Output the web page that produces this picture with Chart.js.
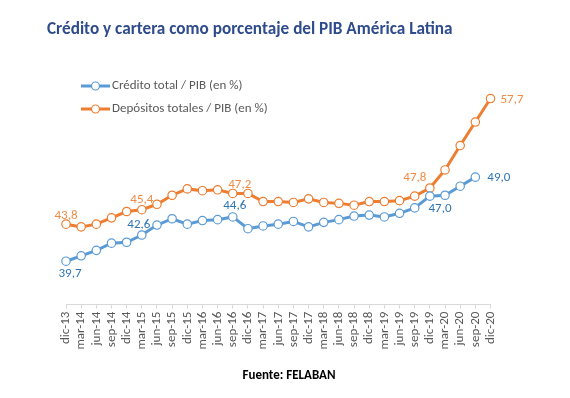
<!DOCTYPE html>
<html>
<head>
<meta charset="utf-8">
<script src="https://cdn.jsdelivr.net/npm/chart.js@4/dist/chart.umd.min.js"></script>
<style>
  html, body { margin: 0; padding: 0; background: #fff; }
  #wrap { width: 570px; height: 398px; }
</style>
</head>
<body>
<div id="wrap"><canvas id="chart" width="570" height="398"></canvas></div>
<script>
// quarterly, dic-13 .. dic-20
const categories = [
  'dic-13', 'mar-14', 'jun-14', 'sep-14', 'dic-14', 'mar-15', 'jun-15', 'sep-15',
  'dic-15', 'mar-16', 'jun-16', 'sep-16', 'dic-16', 'mar-17', 'jun-17', 'sep-17',
  'dic-17', 'mar-18', 'jun-18', 'sep-18', 'dic-18', 'mar-19', 'jun-19', 'sep-19',
  'dic-19', 'mar-20', 'jun-20', 'sep-20', 'dic-20'
];
const credito = [
  39.7, 40.3, 40.9, 41.7, 41.8, 42.6, 43.7, 44.4,
  43.8, 44.2, 44.3, 44.6, 43.3, 43.6, 43.8, 44.1,
  43.5, 44.0, 44.3, 44.7, 44.8, 44.6, 45.0, 45.6,
  46.9, 47.0, 48.0, 49.0, null
];
const depositos = [
  43.8, 43.5, 43.8, 44.5, 45.2, 45.4, 46.0, 47.0,
  47.7, 47.5, 47.6, 47.2, 47.2, 46.3, 46.3, 46.2,
  46.6, 46.2, 46.1, 45.9, 46.3, 46.3, 46.4, 46.9,
  47.8, 49.8, 52.5, 55.1, 57.7
];
// points that carry a value label
const creditoLabelIdx = [0, 5, 11, 25, 27];
const depositosLabelIdx = [0, 5, 11, 24, 28];

const FONT = 'Carlito, Lato, "Open Sans", sans-serif';
const BLUE = '#5B9BD5';
const ORANGE = '#ED7D31';

const fmt = v => v.toFixed(1).replace('.', ',');

// label placement relative to the point (pixels)
const labelPlacement = {
  0: { color: '#2E75B6', spots: { 0: [4, 13, 'center'], 5: [-3, -10, 'center'], 11: [2, -11, 'center'], 25: [-5, 14, 'center'], 27: [12, 1, 'left'] } },
  1: { color: '#F08A45', spots: { 0: [0, -8, 'center'], 5: [0, -10, 'center'], 11: [7, -9, 'center'], 24: [-15, -10, 'center'], 28: [10, 1, 'left'] } }
};
const labelIdx = { 0: creditoLabelIdx, 1: depositosLabelIdx };

const valueLabels = {
  id: 'valueLabels',
  afterDatasetsDraw(chart) {
    const ctx = chart.ctx;
    ctx.save();
    ctx.font = '13px ' + FONT;
    ctx.textBaseline = 'middle';
    chart.data.datasets.forEach((ds, d) => {
      const meta = chart.getDatasetMeta(d);
      const place = labelPlacement[d];
      labelIdx[d].forEach(i => {
        const pt = meta.data[i];
        const [dx, dy, align] = place.spots[i];
        ctx.fillStyle = place.color;
        ctx.textAlign = align;
        ctx.fillText(fmt(ds.data[i]), pt.x + dx, pt.y + dy);
      });
    });
    ctx.restore();
  }
};

// two-row legend in the upper left, Excel style (line + hollow marker)
const lineLegend = {
  id: 'lineLegend',
  afterDraw(chart) {
    const ctx = chart.ctx;
    ctx.save();
    ctx.font = '13px ' + FONT;
    ctx.textBaseline = 'middle';
    ctx.textAlign = 'left';
    chart.data.datasets.forEach((ds, d) => {
      const y = 86 + d * 23;
      ctx.strokeStyle = ds.borderColor;
      ctx.lineWidth = 3;
      ctx.beginPath();
      ctx.moveTo(81, y);
      ctx.lineTo(110, y);
      ctx.stroke();
      ctx.beginPath();
      ctx.arc(95.5, y, 4, 0, Math.PI * 2);
      ctx.fillStyle = '#fff';
      ctx.fill();
      ctx.lineWidth = 1.2;
      ctx.stroke();
      ctx.fillStyle = '#595959';
      ctx.fillText(ds.label, 112, y);
    });
    ctx.restore();
  }
};

new Chart(document.getElementById('chart'), {
  type: 'line',
  data: {
    labels: categories,
    datasets: [
      {
        label: 'Crédito total / PIB (en %)',
        data: credito,
        borderColor: BLUE,
        backgroundColor: '#fff',
        borderWidth: 3,
        pointRadius: 4.2,
        pointBorderWidth: 1.2,
        pointBackgroundColor: '#fff',
        pointBorderColor: BLUE,
        tension: 0
      },
      {
        label: 'Depósitos totales / PIB (en %)',
        data: depositos,
        borderColor: ORANGE,
        backgroundColor: '#fff',
        borderWidth: 3,
        pointRadius: 4.2,
        pointBorderWidth: 1.2,
        pointBackgroundColor: '#fff',
        pointBorderColor: ORANGE,
        tension: 0
      }
    ]
  },
  options: {
    responsive: false,
    animation: false,
    clip: false,
    layout: { padding: { left: 47, right: 39, top: 0, bottom: 0 } },
    plugins: {
      legend: { display: false },
      tooltip: { enabled: false },
      title: {
        display: true,
        text: 'Crédito y cartera como porcentaje del PIB América Latina',
        align: 'start',
        color: '#2E4B8B',
        font: { family: FONT, size: 17.2, weight: 'bold' },
        padding: { top: 19.7, bottom: 37.4 }
      },
      subtitle: {
        display: true,
        position: 'bottom',
        text: 'Fuente: FELABAN',
        color: '#000',
        font: { family: FONT, size: 13, weight: 'bold' },
        padding: { top: 0, bottom: 14.2 }
      }
    },
    scales: {
      x: {
        offset: false,
        grid: { display: true, drawOnChartArea: false, drawTicks: true, tickLength: 4, color: '#d9d9d9' },
        border: { display: true, color: '#d9d9d9', width: 1 },
        ticks: {
          autoSkip: false, minRotation: 90, maxRotation: 90, padding: 3,
          color: '#595959', font: { family: FONT, size: 13 }
        },
        afterFit(scale) { scale.height = 63.6; }
      },
      y: {
        min: 34.9, max: 60,
        display: true,
        grid: { display: false },
        border: { display: false },
        ticks: { display: false },
        afterFit(scale) { scale.width = 19; }
      },
      y2: {
        position: 'right',
        display: true,
        grid: { display: false },
        border: { display: false },
        ticks: { display: false },
        afterFit(scale) { scale.width = 40.5; }
      }
    }
  },
  plugins: [valueLabels, lineLegend]
});
</script>
</body>
</html>
